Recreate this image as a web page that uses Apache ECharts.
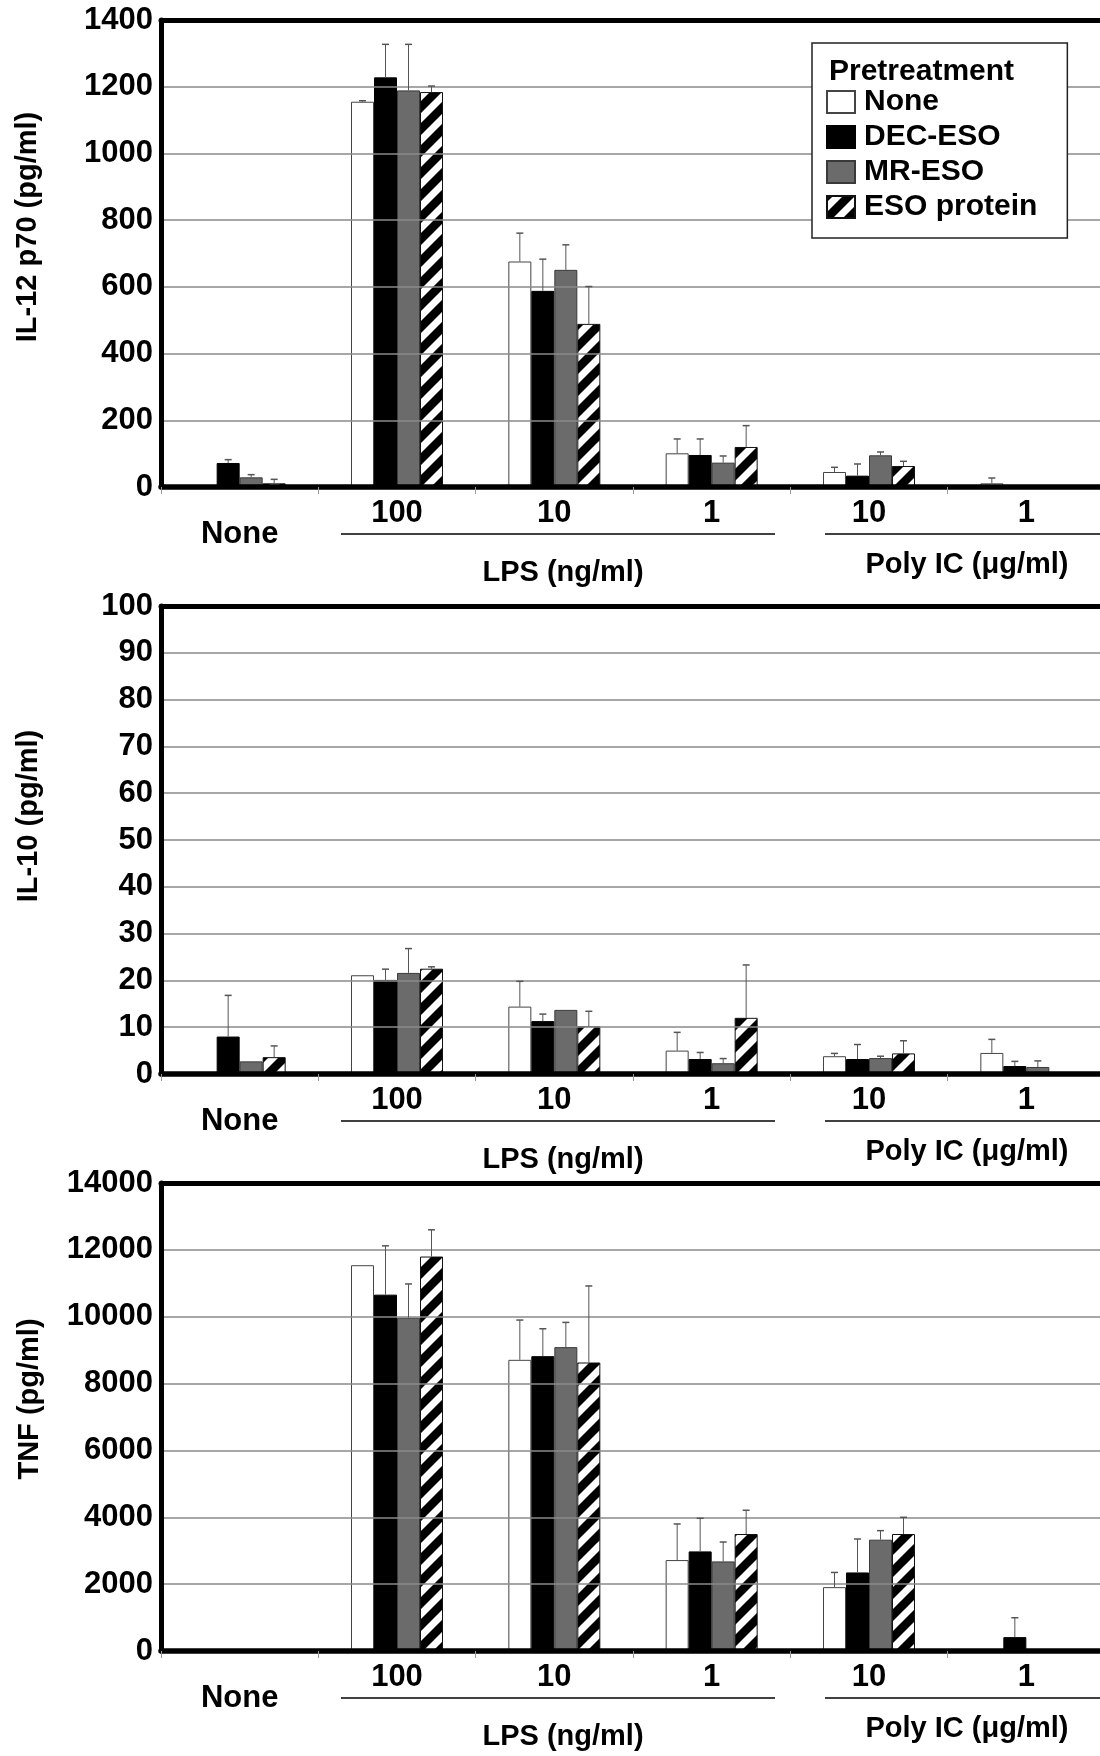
<!DOCTYPE html>
<html>
<head>
<meta charset="utf-8">
<title>IL-12 p70, IL-10 and TNF by pretreatment</title>
<script src="https://cdn.jsdelivr.net/npm/echarts@6/dist/echarts.min.js"></script>
<style>
  html, body { margin: 0; padding: 0; background: #fff; }
  #chart { width: 1100px; height: 1756px; }
</style>
</head>
<body>
<div id="chart"></div>
<script>
// x axis: stimulus groups
const categories = ['None', 'LPS 100', 'LPS 10', 'LPS 1', 'Poly IC 10', 'Poly IC 1'];
const tickLabels = ['None', '100', '10', '1', '10', '1'];
const seriesNames = ['None', 'DEC-ESO', 'MR-ESO', 'ESO protein'];

// IL-12 p70 (pg/ml)
const il12None = [4, 1155, 676, 101, 45, 11];
const il12Dec = [72, 1228, 588, 96, 34, 0];
const il12Mr = [29, 1189, 651, 73, 95, 0];
const il12Eso = [11, 1184, 489, 120, 63, 0];
const il12NoneSd = [0, 3, 85, 43, 14, 16];
const il12DecSd = [10, 99, 95, 48, 35, 0];
const il12MrSd = [8, 138, 75, 20, 10, 0];
const il12EsoSd = [12, 18, 112, 64, 14, 0];

// IL-10 (pg/ml)
const il10None = [0, 21.1, 14.4, 5.0, 3.8, 4.5];
const il10Dec = [8.0, 20.1, 11.3, 3.2, 3.2, 1.7];
const il10Mr = [2.7, 21.6, 13.7, 2.3, 3.4, 1.5];
const il10Eso = [3.6, 22.5, 10.2, 12.0, 4.4, 0];
const il10NoneSd = [0, 0, 5.4, 3.9, 0.6, 2.9];
const il10DecSd = [8.8, 2.3, 1.5, 1.4, 3.1, 1.0];
const il10MrSd = [0, 5.2, 0, 1.0, 0.4, 1.3];
const il10EsoSd = [2.4, 0.4, 3.2, 11.3, 2.7, 0];

// TNF (pg/ml)
const tnfNone = [0, 11540, 8710, 2720, 1910, 0];
const tnfDec = [0, 10660, 8820, 2980, 2350, 415];
const tnfMr = [0, 9970, 9090, 2680, 3330, 0];
const tnfEso = [0, 11800, 8630, 3500, 3500, 0];
const tnfNoneSd = [0, 0, 1190, 1080, 440, 0];
const tnfDecSd = [0, 1460, 820, 990, 1000, 580];
const tnfMrSd = [0, 1010, 740, 580, 270, 0];
const tnfEsoSd = [0, 800, 2290, 710, 500, 0];

const groupLabels = ['LPS (ng/ml)', 'Poly IC (\u03bcg/ml)'];

const FONT = '"Liberation Sans", Arial, Helvetica, sans-serif';
const BAR_W = 23;

// panel layout (pixels)
const panels = [
  { top: 20, height: 467, max: 1400, interval: 200, name: 'IL-12 p70 (pg/ml)', nameX: 28, nameY: 227,
    values: [il12None, il12Dec, il12Mr, il12Eso], sds: [il12NoneSd, il12DecSd, il12MrSd, il12EsoSd] },
  { top: 606, height: 468, max: 100, interval: 10, name: 'IL-10 (pg/ml)', nameX: 29, nameY: 816,
    values: [il10None, il10Dec, il10Mr, il10Eso], sds: [il10NoneSd, il10DecSd, il10MrSd, il10EsoSd] },
  { top: 1183, height: 468, max: 14000, interval: 2000, name: 'TNF (pg/ml)', nameX: 30, nameY: 1399,
    values: [tnfNone, tnfDec, tnfMr, tnfEso], sds: [tnfNoneSd, tnfDecSd, tnfMrSd, tnfEsoSd] }
];

function stripePattern() {
  const c = document.createElement('canvas');
  c.width = 22;
  c.height = 22;
  const g = c.getContext('2d');
  g.fillStyle = '#fff';
  g.fillRect(0, 0, 22, 22);
  g.strokeStyle = '#000';
  g.lineWidth = 8.5;
  g.beginPath();
  g.moveTo(-11, 11); g.lineTo(11, -11);
  g.moveTo(0, 22); g.lineTo(22, 0);
  g.moveTo(11, 33); g.lineTo(33, 11);
  g.stroke();
  return c;
}

const barStyles = [
  { color: '#fff', borderColor: '#444', borderWidth: 1 },
  { color: '#000', borderColor: '#000', borderWidth: 1 },
  { color: '#6b6b6b', borderColor: '#3a3a3a', borderWidth: 1 },
  { color: { image: stripePattern(), repeat: 'repeat' }, borderColor: '#111', borderWidth: 1 }
];

function errorBar(slot) {
  return function (params, api) {
    const sd = api.value(2);
    if (!sd) return null;
    const base = api.coord([api.value(0), api.value(1)]);
    const top = api.coord([api.value(0), api.value(1) + sd]);
    const x = base[0] + (slot - 1.5) * BAR_W;
    return {
      type: 'group',
      children: [
        { type: 'line', shape: { x1: x, y1: base[1], x2: x, y2: top[1] }, style: { stroke: '#555', lineWidth: 1 } },
        { type: 'line', shape: { x1: x - 3.5, y1: top[1], x2: x + 3.5, y2: top[1] }, style: { stroke: '#555', lineWidth: 1.5 } }
      ]
    };
  };
}

const grid = [], xAxis = [], yAxis = [], series = [], graphic = [];

panels.forEach((p, pi) => {
  const y0 = p.top + p.height;
  grid.push({ left: 161, right: -5, top: p.top, height: p.height, containLabel: false, outerBoundsMode: 'none' });

  xAxis.push({
    type: 'category', gridIndex: pi, data: categories, position: 'bottom', z: 3,
    axisLine: { lineStyle: { color: '#000', width: 5.5 } },
    axisTick: { show: true, length: 7, lineStyle: { color: '#999', width: 1 } },
    axisLabel: {
      interval: 0, margin: 11, color: '#000',
      formatter: (v, i) => (i === 0 ? '{lo|' : '{hi|') + tickLabels[i] + '}',
      rich: {
        hi: { fontFamily: FONT, fontWeight: 'bold', fontSize: 31, color: '#000' },
        lo: { fontFamily: FONT, fontWeight: 'bold', fontSize: 31, color: '#000', padding: [21, 0, 0, 0] }
      }
    },
    splitLine: { show: false }
  });
  // thick top border of the plot
  xAxis.push({
    type: 'category', gridIndex: pi, data: categories, position: 'top', z: 3,
    axisLine: { lineStyle: { color: '#000', width: 5 } },
    axisTick: { show: false }, axisLabel: { show: false }, splitLine: { show: false }
  });

  yAxis.push({
    type: 'value', gridIndex: pi, min: 0, max: p.max, interval: p.interval, z: 3,
    axisLine: { show: true, lineStyle: { color: '#000', width: 5 } },
    axisTick: { show: false },
    axisLabel: { margin: 8, color: '#000', fontFamily: FONT, fontWeight: 'bold', fontSize: 31, formatter: v => String(v) },
    splitLine: { lineStyle: { color: '#8a8a8a', width: 1.5 } }
  });

  seriesNames.forEach((name, si) => {
    series.push({
      name: name, type: 'bar', xAxisIndex: pi * 2, yAxisIndex: pi,
      barWidth: BAR_W, barGap: '0%',
      itemStyle: barStyles[si],
      data: p.values[si]
    });
  });
  seriesNames.forEach((name, si) => {
    series.push({
      name: name + ' SD', type: 'custom', xAxisIndex: pi * 2, yAxisIndex: pi, z: 4,
      renderItem: errorBar(si),
      encode: { x: 0, y: 1 },
      data: categories.map((c, ci) => [ci, p.values[si][ci], p.sds[si][ci]])
    });
  });

  // y axis title
  graphic.push({
    type: 'text', x: p.nameX, y: p.nameY, rotation: Math.PI / 2,
    style: { text: p.name, fontFamily: FONT, fontWeight: 'bold', fontSize: 29, fill: '#000', align: 'center', verticalAlign: 'middle' }
  });
  // group underlines and labels
  graphic.push({ type: 'line', shape: { x1: 341, y1: y0 + 47, x2: 775, y2: y0 + 47 }, style: { stroke: '#000', lineWidth: 1.5 } });
  graphic.push({ type: 'line', shape: { x1: 825, y1: y0 + 47, x2: 1100, y2: y0 + 47 }, style: { stroke: '#000', lineWidth: 1.5 } });
  graphic.push({
    type: 'text', x: 563, y: y0 + 86,
    style: { text: groupLabels[0], fontFamily: FONT, fontWeight: 'bold', fontSize: 29, fill: '#000', align: 'center', verticalAlign: 'middle' }
  });
  graphic.push({
    type: 'text', x: 967, y: y0 + 78,
    style: { text: groupLabels[1], fontFamily: FONT, fontWeight: 'bold', fontSize: 29, fill: '#000', align: 'center', verticalAlign: 'middle' }
  });
});

// legend title
graphic.push({
  type: 'text', x: 829, y: 72, z: 100,
  style: { text: 'Pretreatment', fontFamily: FONT, fontWeight: 'bold', fontSize: 30, fill: '#000', align: 'left', verticalAlign: 'middle' }
});

const chart = echarts.init(document.getElementById('chart'), null, { renderer: 'canvas' });
chart.setOption({
  backgroundColor: '#fff',
  animation: false,
  grid: grid,
  xAxis: xAxis,
  yAxis: yAxis,
  legend: {
    data: seriesNames,
    orient: 'vertical',
    left: 812, top: 43,
    padding: [44, 30, 16, 14],
    itemWidth: 28, itemHeight: 22, itemGap: 5,
    icon: 'rect',
    backgroundColor: '#fff',
    borderColor: '#222', borderWidth: 1.5,
    selectedMode: false,
    textStyle: { fontFamily: FONT, fontWeight: 'bold', fontSize: 30, color: '#000', lineHeight: 30, padding: [0, 0, 0, 4] }
  },
  graphic: graphic,
  series: series
});
window.addEventListener('resize', () => chart.resize());
</script>
</body>
</html>
